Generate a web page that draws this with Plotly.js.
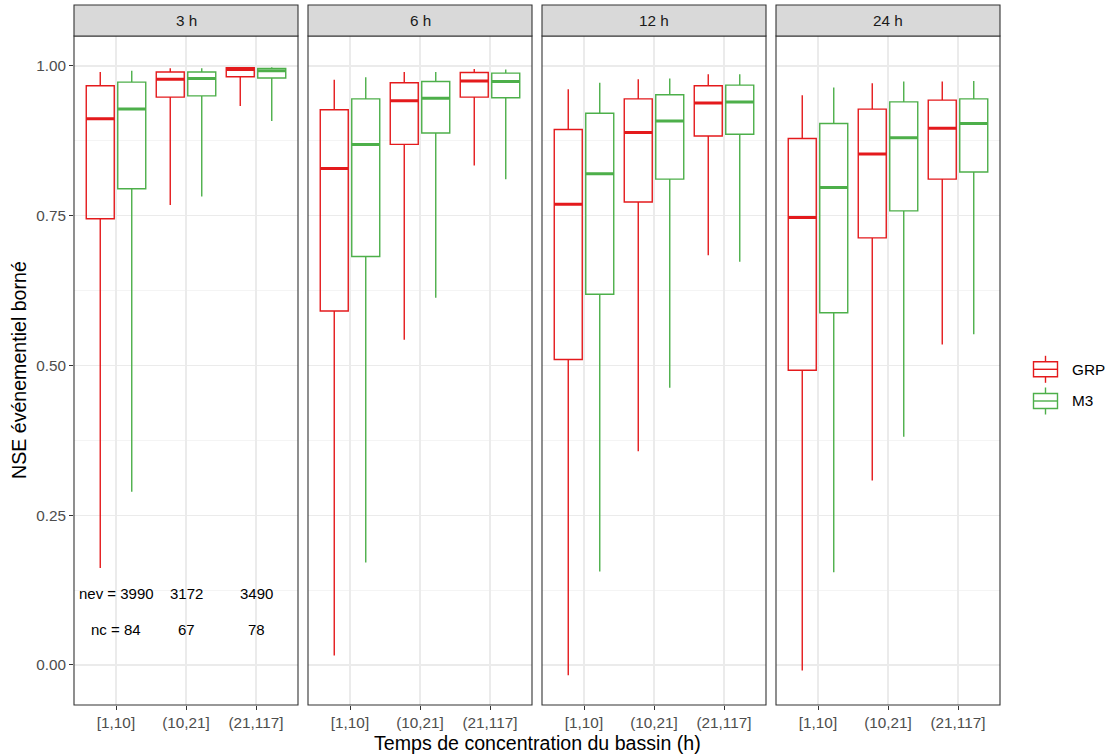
<!DOCTYPE html>
<html>
<head>
<meta charset="utf-8">
<script src="https://cdn.plot.ly/plotly-3.0.1.min.js"></script>
<style>html,body{margin:0;padding:0;background:#fff;}#chart{width:1106px;height:756px;}</style>
</head>
<body>
<div id="chart"></div>
<script>
// ---- Data ----
const horizons = ["3 h", "6 h", "12 h", "24 h"];
const classes = ["[1,10]", "(10,21]", "(21,117]"];
const models = ["GRP", "M3"];

// per horizon: values for the three classes
const grpLower  = [[0.162, 0.768, 0.933], [0.016, 0.543, 0.834], [-0.017, 0.357, 0.684], [-0.009, 0.308, 0.535]];
const grpQ1     = [[0.745, 0.948, 0.982], [0.591, 0.869, 0.948], [0.510, 0.773, 0.883], [0.492, 0.713, 0.811]];
const grpMedian = [[0.912, 0.978, 0.994], [0.829, 0.942, 0.975], [0.769, 0.889, 0.938], [0.747, 0.853, 0.896]];
const grpQ3     = [[0.967, 0.990, 0.997], [0.927, 0.972, 0.989], [0.894, 0.945, 0.967], [0.879, 0.928, 0.943]];
const grpUpper  = [[0.990, 0.996, 0.998], [0.977, 0.990, 0.995], [0.961, 0.978, 0.986], [0.951, 0.971, 0.974]];

const m3Lower  = [[0.289, 0.782, 0.908], [0.171, 0.613, 0.811], [0.156, 0.463, 0.673], [0.155, 0.381, 0.552]];
const m3Q1     = [[0.795, 0.950, 0.980], [0.682, 0.888, 0.947], [0.619, 0.811, 0.886], [0.588, 0.758, 0.823]];
const m3Median = [[0.928, 0.979, 0.992], [0.869, 0.946, 0.974], [0.820, 0.908, 0.940], [0.797, 0.880, 0.904]];
const m3Q3     = [[0.973, 0.990, 0.996], [0.945, 0.974, 0.988], [0.921, 0.952, 0.968], [0.904, 0.940, 0.945]];
const m3Upper  = [[0.992, 0.996, 0.998], [0.981, 0.990, 0.994], [0.972, 0.979, 0.986], [0.964, 0.974, 0.975]];

const nev = [3990, 3172, 3490];
const nc = [84, 67, 78];

// ---- Styles ----
const colors = {GRP: "#E41A1C", M3: "#4DAF4A"};
const FONT = "Liberation Sans, Arial, Helvetica, sans-serif";
const stats = {
  GRP: {lo: grpLower, q1: grpQ1, me: grpMedian, q3: grpQ3, up: grpUpper},
  M3: {lo: m3Lower, q1: m3Q1, me: m3Median, q3: m3Q3, up: m3Upper}
};

// panel geometry (pixels)
const plotL = 74, plotR = 1000, plotT = 36, plotB = 705;
const W = plotR - plotL, H = plotB - plotT;
const panelLeft = [74, 308, 542, 776];
const panelW = 224;
const px = x => (x - plotL) / W;
const py = y => (plotB - y) / H;

const traces = [];
horizons.forEach((h, p) => {
  const xa = p === 0 ? "x" : "x" + (p + 1);
  models.forEach(m => {
    const s = stats[m];
    traces.push({
      type: "box", name: m, showlegend: false,
      xaxis: xa, yaxis: "y",
      x: classes,
      q1: s.q1[p], median: s.me[p], q3: s.q3[p],
      lowerfence: s.lo[p], upperfence: s.up[p],
      offsetgroup: m,
      line: {color: colors[m], width: 1.4},
      fillcolor: "rgba(255,255,255,0)",
      whiskerwidth: 0, boxpoints: false, hoverinfo: "skip"
    });
    // thicker median line overlay
    traces.push({
      type: "box", name: m, showlegend: false,
      xaxis: xa, yaxis: "y",
      x: classes,
      q1: s.me[p], median: s.me[p], q3: s.me[p],
      lowerfence: s.me[p], upperfence: s.me[p],
      offsetgroup: m,
      line: {color: colors[m], width: 3},
      fillcolor: "rgba(255,255,255,0)",
      whiskerwidth: 0, boxpoints: false, hoverinfo: "skip"
    });
  });
});

const layout = {
  width: 1106, height: 756,
  margin: {l: plotL, r: 1106 - plotR, t: plotT, b: 756 - plotB, pad: 0},
  paper_bgcolor: "#ffffff",
  plot_bgcolor: "#ffffff",
  font: {family: FONT, size: 15, color: "#1A1A1A"},
  boxmode: "group",
  boxgap: 0.1,
  boxgroupgap: 0.111,
  showlegend: false,
  yaxis: {
    anchor: "x",
    range: [-0.0668, 1.050],
    tickvals: [0, 0.25, 0.5, 0.75, 1],
    tickformat: ".2f",
    ticks: "outside", ticklen: 4, tickwidth: 1, tickcolor: "#333333",
    tickfont: {family: FONT, size: 15.3, color: "#4D4D4D"},
    showgrid: true, gridcolor: "#EBEBEB", gridwidth: 1.1,
    minor: {tickvals: [0.125, 0.375, 0.625, 0.875], showgrid: true, gridcolor: "#EBEBEB", gridwidth: 0.55, ticks: ""},
    zeroline: false, showline: false
  },
  shapes: [],
  annotations: []
};

horizons.forEach((h, p) => {
  const key = p === 0 ? "xaxis" : "xaxis" + (p + 1);
  layout[key] = {
    domain: [px(panelLeft[p]), px(panelLeft[p] + panelW)],
    anchor: "y",
    type: "category",
    categoryorder: "array", categoryarray: classes,
    range: [-0.6, 2.6],
    ticks: "outside", ticklen: 4, tickwidth: 1, tickcolor: "#333333",
    tickfont: {family: FONT, size: 15.3, color: "#4D4D4D"},
    showgrid: true, gridcolor: "#EBEBEB", gridwidth: 1.1,
    zeroline: false, showline: false
  };
  const xs = p === 0 ? "x" : "x" + (p + 1);
  layout.shapes.push({
    type: "rect", xref: xs + " domain", yref: "y domain",
    x0: 0, x1: 1, y0: 0, y1: 1,
    line: {color: "#333333", width: 1.1}, fillcolor: "rgba(0,0,0,0)", layer: "above"
  });
  layout.shapes.push({
    type: "rect", xref: xs + " domain", yref: "y domain",
    x0: 0, x1: 1, y0: 1, y1: 1 + 31 / H,
    line: {color: "#333333", width: 1.1}, fillcolor: "#D9D9D9", layer: "above"
  });
  layout.annotations.push({
    xref: xs + " domain", yref: "y domain",
    x: 0.5, y: 1 + 15.5 / H, xanchor: "center", yanchor: "middle",
    text: h, showarrow: false,
    font: {family: FONT, size: 15.3, color: "#1A1A1A"}
  });
});

// count labels in first panel
classes.forEach((c, i) => {
  layout.annotations.push({
    xref: "x", yref: "y", x: c, y: 0.12,
    text: (i === 0 ? "nev = " : "") + nev[i],
    showarrow: false, xanchor: "center", yanchor: "middle",
    font: {family: FONT, size: 15, color: "#000000"}
  });
  layout.annotations.push({
    xref: "x", yref: "y", x: c, y: 0.06,
    text: (i === 0 ? "nc = " : "") + nc[i],
    showarrow: false, xanchor: "center", yanchor: "middle",
    font: {family: FONT, size: 15, color: "#000000"}
  });
});

// custom legend (ggplot-style box keys)
const legendRows = [{m: "GRP", yc: 369.3}, {m: "M3", yc: 401}];
legendRows.forEach(r => {
  const col = colors[r.m];
  const xc = 1045.5;
  layout.shapes.push({
    type: "line", xref: "paper", yref: "paper",
    x0: px(xc), x1: px(xc), y0: py(r.yc - 13.5), y1: py(r.yc + 13.5),
    line: {color: col, width: 1.4}, layer: "above"
  });
  layout.shapes.push({
    type: "rect", xref: "paper", yref: "paper",
    x0: px(xc - 12), x1: px(xc + 12), y0: py(r.yc - 7.5), y1: py(r.yc + 7.5),
    line: {color: col, width: 1.4}, fillcolor: "#ffffff", layer: "above"
  });
  layout.shapes.push({
    type: "line", xref: "paper", yref: "paper",
    x0: px(xc - 12), x1: px(xc + 12), y0: py(r.yc), y1: py(r.yc),
    line: {color: col, width: 1.4}, layer: "above"
  });
  layout.annotations.push({
    xref: "paper", yref: "paper", x: px(1070), y: py(r.yc),
    xanchor: "left", yanchor: "middle", showarrow: false,
    text: r.m, font: {family: FONT, size: 15.3, color: "#000000"}
  });
});

// axis titles
layout.annotations.push({
  xref: "paper", yref: "paper", x: px(537), y: py(743),
  xanchor: "center", yanchor: "middle", showarrow: false,
  text: "Temps de concentration du bassin (h)",
  font: {family: FONT, size: 19.6, color: "#000000"}
});
layout.annotations.push({
  xref: "paper", yref: "paper", x: px(19), y: py(370),
  xanchor: "center", yanchor: "middle", showarrow: false, textangle: -90,
  text: "NSE événementiel borné",
  font: {family: FONT, size: 19.6, color: "#000000"}
});

Plotly.newPlot("chart", traces, layout, {staticPlot: true, displayModeBar: false});
</script>
</body>
</html>
